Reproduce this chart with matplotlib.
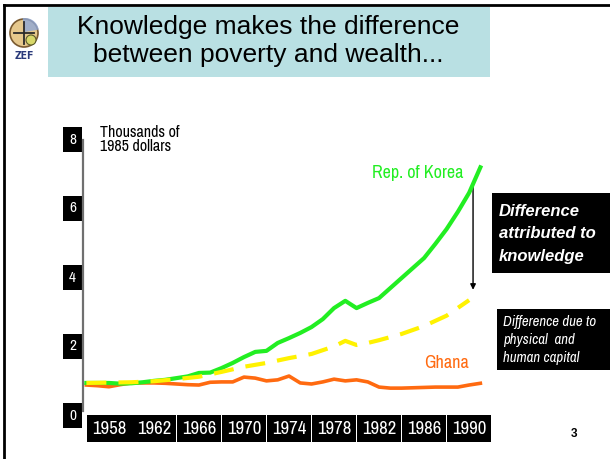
import matplotlib
matplotlib.use("Agg")
import matplotlib.pyplot as plt
import matplotlib.transforms as mtransforms
from matplotlib.patches import Rectangle, Circle, Wedge
from matplotlib.lines import Line2D

# data, thousands of 1985 dollars
years = list(range(1956, 1992))
korea = [0.90, 0.90, 0.90, 0.88, 0.89, 0.92, 0.96, 0.99, 1.04, 1.09,
         1.19, 1.20, 1.33, 1.48, 1.65, 1.80, 1.83, 2.06, 2.20, 2.35,
         2.52, 2.75, 3.07, 3.28, 3.07, 3.22, 3.36, 3.65, 3.94, 4.23,
         4.52, 4.93, 5.36, 5.86, 6.41, 7.15]
ghana = [0.84, 0.82, 0.79, 0.85, 0.90, 0.90, 0.90, 0.89, 0.87, 0.85,
         0.84, 0.92, 0.93, 0.93, 1.07, 1.04, 0.96, 0.99, 1.10, 0.90,
         0.87, 0.93, 1.01, 0.96, 0.99, 0.93, 0.78, 0.75, 0.75, 0.76,
         0.77, 0.78, 0.78, 0.78, 0.84, 0.89]
cap_years = [1956, 1958, 1960, 1962, 1964, 1966, 1968, 1970, 1972, 1974,
             1976, 1978, 1979, 1980, 1981, 1982, 1984, 1986, 1988, 1990]
capital = [0.90, 0.91, 0.92, 0.95, 1.01, 1.08, 1.22, 1.37, 1.48, 1.62,
           1.74, 1.96, 2.12, 2.00, 2.06, 2.14, 2.32, 2.55, 2.85, 3.30]

x_ticks = [1958, 1962, 1966, 1970, 1974, 1978, 1982, 1986, 1990]
x_boxes = [(1958, 1962), (1966,), (1970,), (1974,), (1978,), (1982,), (1986,), (1990,)]
y_ticks = [0, 2, 4, 6, 8]

W, H = 610, 459
narrow = ['Archivo Narrow', 'DejaVu Sans']
sans = ['Liberation Sans', 'DejaVu Sans']


def fx(x):
    return x / W


def fy(y):
    return 1 - y / H


fig = plt.figure(figsize=(W / 100, H / 100), dpi=100)
fig.patch.set_facecolor('white')

# slide frame (left + top)
fig.add_artist(Line2D([fx(4), fx(4)], [fy(5), 0], color='black', lw=2, transform=fig.transFigure))
fig.add_artist(Line2D([fx(4), 1], [fy(5), fy(5)], color='black', lw=2, transform=fig.transFigure))

# title box
fig.add_artist(Rectangle((fx(48), fy(77)), fx(490 - 48), (77 - 7) / H,
                         facecolor='#B9E0E3', edgecolor='none', transform=fig.transFigure))
fig.text(fx(268), fy(27), 'Knowledge makes the difference', ha='center', va='center',
         fontsize=19, family=sans, color='black')
fig.text(fx(268), fy(55), 'between poverty and wealth...', ha='center', va='center',
         fontsize=19, family=sans, color='black')

# rough logo (pixel-space axes so the circle stays round)
lax = fig.add_axes([fx(6), fy(66), fx(38), 60 / H])
lax.set_xlim(0, 38)
lax.set_ylim(0, 60)
lax.axis('off')
lax.add_patch(Circle((18, 33), 14, facecolor='#E6C88C', edgecolor='#7A5A30', lw=1.2))
lax.add_patch(Wedge((19, 34), 14, 10, 100, facecolor='#8FA8D8', edgecolor='none', alpha=0.8))
lax.plot([18, 18], [22, 44], color='#2A2A2A', lw=1.3)
lax.plot([8, 28], [33, 33], color='#2A2A2A', lw=1.3)
lax.add_patch(Circle((25, 26), 5, facecolor='#D8D86A', edgecolor='#5A5A2A', lw=0.8))
lax.text(18, 10, 'ZEF', ha='center', va='center', fontsize=7.5, fontweight='bold',
         family=['DejaVu Sans'], fontstretch='condensed', color='#2A3A7A')

# chart axes: x(1955.7)=83px, y(0)=414px, y(8)=138px
ax = fig.add_axes([fx(83), fy(414), fx(495 - 83), (414 - 138) / H])
ax.set_xlim(1955.7, 1992.3)
ax.set_ylim(0, 8)
ax.patch.set_alpha(0)

ax.plot(years, ghana, color='#FF6A10', lw=2.6, zorder=3, solid_joinstyle='round')
ax.plot(years, korea, color='#22EE22', lw=3.0, zorder=4, solid_joinstyle='round')
ax.plot(cap_years, capital, color='#FFF200', lw=3.0, zorder=5, dashes=(4.8, 2.9))

for s in ['top', 'right', 'bottom']:
    ax.spines[s].set_visible(False)
ax.spines['left'].set_color('#707070')
ax.spines['left'].set_linewidth(1.6)
ax.spines['left'].set_bounds(0.1, 7.95)

ax.set_xticks([])
ax.set_yticks(y_ticks)
ax.tick_params(axis='y', length=0, pad=5, labelsize=11, labelcolor='white')
for lab in ax.get_yticklabels():
    lab.set_family(narrow)
    lab.set_bbox(dict(facecolor='black', edgecolor='none', pad=4.3))

# x tick boxes below the axis
bt = mtransforms.blended_transform_factory(ax.transData, ax.transAxes)
bh = 27 / (414 - 138)
for grp in x_boxes:
    x0 = grp[0] - 1.95
    x1 = grp[-1] + 1.95
    ax.add_patch(Rectangle((x0, -bh - 1 / 276), x1 - x0, bh, transform=bt,
                           facecolor='black', edgecolor='none', clip_on=False))
for yr in x_ticks:
    ax.text(yr, -15 / 276, str(yr), transform=bt, ha='center', va='center',
            color='white', fontsize=13.5, family=narrow, clip_on=False)

ax.text(1957.2, 7.95, 'Thousands of\n1985 dollars', ha='left', va='center',
        fontsize=11.5, family=narrow, color='black', linespacing=0.95)
ax.text(1985.4, 6.98, 'Rep. of Korea', ha='center', va='center', fontsize=13,
        family=narrow, color='#22EE22')
ax.text(1988.0, 1.48, 'Ghana', ha='center', va='center', fontsize=13,
        family=narrow, color='#FF6A10')

ax.annotate('', xy=(1990.35, 3.6), xytext=(1990.35, 6.62),
            arrowprops=dict(arrowstyle='-|>', color='black', lw=1.0,
                            mutation_scale=8, shrinkA=0, shrinkB=0))

# explanation boxes
fig.add_artist(Rectangle((fx(492), fy(273)), fx(610 - 492), (273 - 193) / H,
                         facecolor='black', edgecolor='none', transform=fig.transFigure))
fig.text(fx(499), fy(234), 'Difference\nattributed to\nknowledge', ha='left', va='center',
         fontsize=12, fontweight='bold', style='italic', family=sans, color='white',
         linespacing=1.62)
fig.add_artist(Rectangle((fx(497), fy(370)), fx(610 - 497), (370 - 309) / H,
                         facecolor='black', edgecolor='none', transform=fig.transFigure))
fig.text(fx(503), fy(340), 'Difference due to\nphysical  and\nhuman capital', ha='left', va='center',
         fontsize=10.7, style='italic', family=narrow, color='white', linespacing=1.4)

fig.text(fx(574), fy(434), '3', ha='center', va='center', fontsize=8.5, fontweight='bold',
         family=sans, color='black')

fig.savefig('out.png', dpi=100)
